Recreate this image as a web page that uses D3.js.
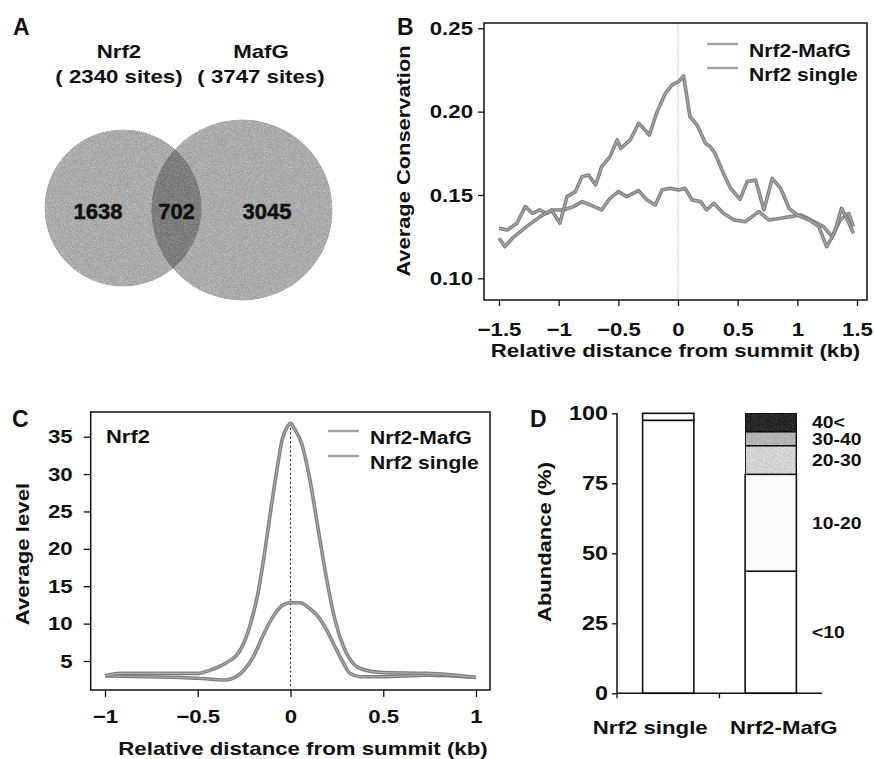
<!DOCTYPE html>
<html>
<head>
<meta charset="utf-8">
<script src="https://cdn.jsdelivr.net/npm/d3@7"></script>
<style>
  body { margin: 0; background: #fff; }
  svg text { font-family: 'Liberation Sans', Arial, sans-serif; font-weight: bold; fill: #111; }
</style>
</head>
<body>
<svg id="fig" width="875" height="759"></svg>
<script>
// ---- data ----
var vennSets = ['Nrf2', 'MafG'];
var vennTotals = [2340, 3747];
var vennCounts = [1638, 702, 3045];   // Nrf2 only, both, MafG only

// B: average conservation, [kb, value]
var consMafg = [[-1.5,0.124],[-1.45,0.119],[-1.38,0.1246],[-1.27,0.131],[-1.155,0.137],[-1.06,0.141],
  [-0.99,0.133],[-0.93,0.149],[-0.86,0.152],[-0.805,0.161],[-0.75,0.162],[-0.69,0.156],[-0.64,0.167],
  [-0.57,0.173],[-0.51,0.183],[-0.48,0.178],[-0.40,0.183],[-0.33,0.193],[-0.29,0.190],[-0.24,0.186],
  [-0.18,0.199],[-0.106,0.211],[-0.05,0.216],[0.005,0.218],[0.047,0.2214],[0.10,0.197],[0.16,0.192],
  [0.23,0.181],[0.27,0.179],[0.31,0.175],[0.38,0.163],[0.44,0.154],[0.52,0.1474],[0.58,0.158],
  [0.65,0.159],[0.72,0.141],[0.79,0.160],[0.86,0.154],[0.93,0.142],[1.0,0.138],[1.10,0.135],
  [1.18,0.131],[1.245,0.119],[1.31,0.127],[1.37,0.142],[1.42,0.135],[1.47,0.127]];
var consSingle = [[-1.5,0.130],[-1.43,0.129],[-1.35,0.133],[-1.28,0.143],[-1.22,0.139],[-1.16,0.141],
  [-1.10,0.139],[-1.04,0.141],[-0.96,0.141],[-0.875,0.143],[-0.805,0.146],[-0.735,0.144],[-0.64,0.141],
  [-0.57,0.148],[-0.50,0.152],[-0.43,0.149],[-0.33,0.1526],[-0.26,0.147],[-0.19,0.144],[-0.134,0.153],
  [-0.064,0.154],[0.005,0.153],[0.06,0.154],[0.117,0.147],[0.19,0.146],[0.24,0.141],[0.30,0.145],
  [0.38,0.139],[0.47,0.135],[0.565,0.134],[0.677,0.140],[0.76,0.135],[0.86,0.136],[0.94,0.137],
  [1.03,0.138],[1.14,0.134],[1.22,0.131],[1.29,0.125],[1.36,0.135],[1.43,0.139],[1.47,0.131]];
var consTicksX = [-1.5, -1, -0.5, 0, 0.5, 1, 1.5];
var consTicksY = [0.10, 0.15, 0.20, 0.25];

// C: average level, [kb, value]
var levelMafg = [[-1,3.0],[-0.92,3.35],[-0.5,3.35],[-0.42,3.9],[-0.35,4.7],[-0.27,6.5],[-0.22,9.6],
  [-0.176,14],[-0.14,19.4],[-0.104,25.6],[-0.068,31.4],[-0.045,34.6],[-0.02,36.2],[0.002,36.8],
  [0.015,36.3],[0.06,34.1],[0.105,29.2],[0.15,22.5],[0.196,15.8],[0.24,10.5],[0.286,6.9],[0.33,4.9],
  [0.377,4.0],[0.5,3.45],[0.74,3.35],[1.0,2.8]];
var levelSingle = [[-1,3.0],[-0.5,2.7],[-0.35,2.45],[-0.3,2.8],[-0.25,3.8],[-0.2,5.6],[-0.15,8.3],
  [-0.1,10.7],[-0.05,12.3],[0,12.8],[0.05,12.8],[0.105,12.0],[0.15,10.9],[0.196,9.1],[0.24,6.9],
  [0.286,4.7],[0.32,3.35],[0.377,2.9],[0.5,2.9],[0.74,3.1],[1.0,2.8]];
var levelTicksX = [-1, -0.5, 0, 0.5, 1];
var levelTicksY = [5, 10, 15, 20, 25, 30, 35];

// D: abundance (%) by bin
var abundGroups = ['Nrf2 single', 'Nrf2-MafG'];
var abundBins = ['<10', '10-20', '20-30', '30-40', '40<'];
var abundSingle = [97.5, 2.5, 0, 0, 0];
var abundMafg = [43.6, 34.6, 10.2, 5.0, 6.6];
var abundTicks = [0, 25, 50, 75, 100];

var seriesNames = ['Nrf2-MafG', 'Nrf2 single'];

// ---- drawing ----
var svg = d3.select('#fig');
var fmt = d3.format('');
var STRETCH = 1.17;   // the scanned lettering is wider than Arial

var defs = svg.append('defs');
// scan grain: noise is premultiplied (mean ~0.25), so k4 offsets it back to zero mean
var grain = defs.append('filter').attr('id', 'grain')
  .attr('x', 0).attr('y', 0).attr('width', '100%').attr('height', '100%')
  .attr('color-interpolation-filters', 'sRGB');
grain.append('feTurbulence').attr('type', 'fractalNoise').attr('baseFrequency', 1.3)
  .attr('numOctaves', 1).attr('seed', 4).attr('result', 'noise');
grain.append('feColorMatrix').attr('in', 'noise').attr('type', 'saturate').attr('values', 0).attr('result', 'gn');
grain.append('feComposite').attr('in', 'SourceGraphic').attr('in2', 'gn').attr('operator', 'arithmetic')
  .attr('k1', 0).attr('k2', 1).attr('k3', 0.5).attr('k4', -0.12).attr('result', 'mix');
grain.append('feComposite').attr('in', 'mix').attr('in2', 'SourceAlpha').attr('operator', 'in');

function panelLetter(t, x, y) {
  svg.append('text').attr('class', 'nostretch').attr('x', x).attr('y', y).text(t).style('font-size', '23px');
}

function trace(g, pts, x, y, curve) {
  var line = d3.line().x(function (d) { return x(d[0]); }).y(function (d) { return y(d[1]); }).curve(curve);
  g.append('path').attr('d', line(pts)).attr('fill', 'none')
    .attr('stroke', '#7f7f7f').attr('stroke-width', 3.6).attr('stroke-linejoin', 'round');
  g.append('path').attr('d', line(pts)).attr('fill', 'none')
    .attr('stroke', '#adadad').attr('stroke-width', 1.1).attr('stroke-linejoin', 'round');
}

function legend(g, x, y0, step) {
  seriesNames.forEach(function (s, i) {
    var yy = y0 + i * step;
    g.append('line').attr('x1', x).attr('x2', x + 31).attr('y1', yy - 13).attr('y2', yy - 13)
      .attr('stroke', '#a4a4a4').attr('stroke-width', 2.5);
    g.append('text').attr('x', x + 42).attr('y', yy).text(s).style('font-size', '18px');
  });
}

function styleAxis(ax, size) {
  ax.select('.domain').remove();
  ax.selectAll('.tick line').attr('stroke', '#111').attr('stroke-width', 1.3);
  ax.selectAll('.tick text').style('font-family', "'Liberation Sans', Arial, sans-serif")
    .style('font-weight', 'bold').style('font-size', size).attr('fill', '#111');
}

// ===== A: Venn =====
(function () {
  var g = svg.append('g');
  panelLetter('A', 13, 35);
  var r = d3.scaleLinear().domain(d3.extent(vennTotals)).range([78.5, 90.5]);
  var cx = d3.scalePoint().domain(vennSets).range([123, 242]);
  var cy = { Nrf2: 208, MafG: 210 };
  var circles = vennSets.map(function (s, i) { return { name: s, x: cx(s), y: cy[s], r: r(vennTotals[i]) }; });

  defs.append('clipPath').attr('id', 'clipLeft').append('circle')
    .attr('cx', circles[0].x).attr('cy', circles[0].y).attr('r', circles[0].r);

  g.selectAll('circle.set').data(circles).enter().append('circle').attr('class', 'set')
    .attr('cx', function (d) { return d.x; }).attr('cy', function (d) { return d.y; })
    .attr('r', function (d) { return d.r; }).attr('fill', '#aaaaaa').attr('filter', 'url(#grain)');
  g.append('circle').attr('cx', circles[1].x).attr('cy', circles[1].y).attr('r', circles[1].r)
    .attr('clip-path', 'url(#clipLeft)').attr('fill', '#7c7c7c').attr('filter', 'url(#grain)');

  var titleX = [119, 261];
  vennSets.forEach(function (s, i) {
    g.append('text').attr('x', titleX[i]).attr('y', 58).attr('text-anchor', 'middle').text(s).style('font-size', '19px');
    g.append('text').attr('x', titleX[i]).attr('y', 83).attr('text-anchor', 'middle')
      .text('( ' + vennTotals[i] + ' sites)').style('font-size', '19px');
  });

  var lEdge = circles[0].x - circles[0].r, lRight = circles[0].x + circles[0].r;
  var rLeft = circles[1].x - circles[1].r, rEdge = circles[1].x + circles[1].r;
  var numX = [(lEdge + rLeft) / 2, (rLeft + lRight) / 2, (lRight + rEdge) / 2];
  vennCounts.forEach(function (c, i) {
    g.append('text').attr('class', 'nostretch').attr('x', numX[i]).attr('y', 219).attr('text-anchor', 'middle').text(c)
      .style('font-size', '22px').style('stroke', '#111').style('stroke-width', 0.5);
  });
})();

// ===== B: conservation =====
(function () {
  var g = svg.append('g');
  panelLetter('B', 397, 35);
  var x = d3.scaleLinear().domain([-1.5, 1.5]).range([499, 857]);
  var y = d3.scaleLinear().domain([0.10, 0.25]).range([278.3, 28.3]);
  var box = { x0: 484, x1: 867, y0: 23, y1: 300 };

  g.append('line').attr('x1', x(0)).attr('x2', x(0)).attr('y1', box.y0).attr('y2', box.y1)
    .attr('stroke', '#bdbdbd').attr('stroke-width', 1).attr('stroke-dasharray', '1.5,1');
  trace(g, consSingle, x, y, d3.curveLinear);
  trace(g, consMafg, x, y, d3.curveLinear);

  g.append('rect').attr('x', box.x0).attr('y', box.y0).attr('width', box.x1 - box.x0).attr('height', box.y1 - box.y0)
    .attr('fill', 'none').attr('stroke', '#111').attr('stroke-width', 1.5);

  var ax = g.append('g').attr('transform', 'translate(0,' + box.y1 + ')')
    .call(d3.axisBottom(x).tickValues(consTicksX).tickFormat(fmt).tickSize(6).tickPadding(17));
  styleAxis(ax, '19px');
  var ay = g.append('g').attr('transform', 'translate(' + box.x0 + ',0)')
    .call(d3.axisLeft(y).tickValues(consTicksY).tickFormat(d3.format('.2f')).tickSize(6).tickPadding(5));
  styleAxis(ay, '19px');

  g.append('text').attr('x', (box.x0 + box.x1) / 2).attr('y', 357).attr('text-anchor', 'middle')
    .text('Relative distance from summit (kb)').style('font-size', '19px');
  g.append('text').attr('transform', 'translate(410,161) rotate(-90)').attr('text-anchor', 'middle')
    .text('Average Conservation').style('font-size', '18.7px');

  legend(g, 707, 57, 24);
})();

// ===== C: average level =====
(function () {
  var g = svg.append('g');
  panelLetter('C', 12, 427);
  var x = d3.scaleLinear().domain([-1, 1]).range([105, 476]);
  var y = d3.scaleLinear().domain([5, 35]).range([661, 436.7]);
  var box = { x0: 90.7, x1: 490, y0: 412, y1: 690 };

  g.append('line').attr('x1', x(0)).attr('x2', x(0)).attr('y1', y(d3.max(levelMafg, function (d) { return d[1]; })))
    .attr('y2', box.y1).attr('stroke', '#222').attr('stroke-width', 1).attr('stroke-dasharray', '2,2.5');
  trace(g, levelSingle, x, y, d3.curveMonotoneX);
  trace(g, levelMafg, x, y, d3.curveMonotoneX);

  g.append('rect').attr('x', box.x0).attr('y', box.y0).attr('width', box.x1 - box.x0).attr('height', box.y1 - box.y0)
    .attr('fill', 'none').attr('stroke', '#111').attr('stroke-width', 1.5);

  var ax = g.append('g').attr('transform', 'translate(0,' + box.y1 + ')')
    .call(d3.axisBottom(x).tickValues(levelTicksX).tickFormat(fmt).tickSize(7).tickPadding(12.5));
  styleAxis(ax, '19px');
  var ay = g.append('g').attr('transform', 'translate(' + box.x0 + ',0)')
    .call(d3.axisLeft(y).tickValues(levelTicksY).tickFormat(fmt).tickSize(7).tickPadding(11));
  styleAxis(ay, '19px');

  g.append('text').attr('x', 106).attr('y', 443).text('Nrf2').style('font-size', '18.8px');
  g.append('text').attr('x', 303).attr('y', 755).attr('text-anchor', 'middle')
    .text('Relative distance from summit (kb)').style('font-size', '19px');
  g.append('text').attr('transform', 'translate(29,554) rotate(-90)').attr('text-anchor', 'middle')
    .text('Average level').style('font-size', '19px');

  legend(g, 328, 444, 25);
})();

// ===== D: abundance stacked bars =====
(function () {
  var g = svg.append('g');
  panelLetter('D', 530, 427);
  var x = d3.scaleBand().domain(abundGroups).range([617, 822]).paddingInner(0.5).paddingOuter(0.25);
  var y = d3.scaleLinear().domain([0, 100]).range([693.3, 413.3]);
  var binFill = { '<10': '#ffffff', '10-20': '#fbfbfb', '20-30': '#d3d3d3', '30-40': '#b3b3b3', '40<': '#262626' };

  var rows = abundGroups.map(function (grp, i) {
    var vals = i === 0 ? abundSingle : abundMafg;
    var o = { group: grp };
    abundBins.forEach(function (b, j) { o[b] = vals[j]; });
    return o;
  });
  var stack = d3.stack().keys(abundBins)(rows);

  stack.forEach(function (layer) {
    g.selectAll(null).data(layer.filter(function (d) { return d[1] - d[0] > 0; })).enter().append('rect')
      .attr('x', function (d) { return x(d.data.group); })
      .attr('width', x.bandwidth())
      .attr('y', function (d) { return y(d[1]); })
      .attr('height', function (d) { return y(d[0]) - y(d[1]); })
      .attr('fill', binFill[layer.key])
      .attr('filter', layer.key === '40<' || layer.key === '20-30' || layer.key === '30-40' ? 'url(#grain)' : null)
      .attr('stroke', '#111').attr('stroke-width', 1.6);
  });

  // bin labels beside the Nrf2-MafG bar
  stack.forEach(function (layer) {
    var d = layer[1];
    var mid = Math.min((d[0] + d[1]) / 2, 98.8);
    g.append('text').attr('x', 812).attr('y', y(mid)).attr('dy', '0.35em').text(layer.key).style('font-size', '16.5px');
  });

  var ay = g.append('g').attr('transform', 'translate(617,0)')
    .call(d3.axisLeft(y).tickValues(abundTicks).tickFormat(fmt).tickSize(5).tickPadding(4));
  styleAxis(ay, '20px');
  g.append('line').attr('x1', 617).attr('x2', 617).attr('y1', y(100)).attr('y2', y(0)).attr('stroke', '#111').attr('stroke-width', 1.5);
  g.append('line').attr('x1', 617).attr('x2', 822).attr('y1', y(0)).attr('y2', y(0)).attr('stroke', '#111').attr('stroke-width', 1.5);
  var midTick = (x(abundGroups[0]) + x.bandwidth() + x(abundGroups[1])) / 2;
  [617, midTick].forEach(function (t) {
    g.append('line').attr('x1', t).attr('x2', t).attr('y1', y(0)).attr('y2', y(0) + 5).attr('stroke', '#111').attr('stroke-width', 1.3);
  });

  var labelShift = [-18, 13];
  abundGroups.forEach(function (grp, i) {
    g.append('text').attr('x', x(grp) + x.bandwidth() / 2 + labelShift[i]).attr('y', 734)
      .attr('text-anchor', 'middle').text(grp).style('font-size', '19px');
  });
  g.append('text').attr('transform', 'translate(551,542) rotate(-90)').attr('text-anchor', 'middle')
    .text('Abundance (%)').style('font-size', '18.8px');
})();

// widen lettering to match the scan
svg.selectAll('text').filter(function () { return !this.classList.contains('nostretch'); })
  .each(function () {
    var len = this.getComputedTextLength();
    d3.select(this).attr('textLength', len * STRETCH).attr('lengthAdjust', 'spacingAndGlyphs');
  });
</script>
</body>
</html>
